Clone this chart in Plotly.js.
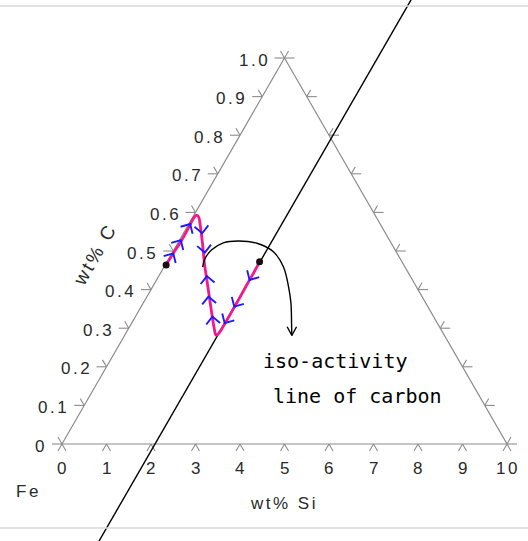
<!DOCTYPE html>
<html><head><meta charset="utf-8">
<script src="https://cdn.plot.ly/plotly-3.0.1.min.js"></script>
<style>
html,body{margin:0;padding:0;background:#fff;}
#chart{width:528px;height:541px;}
text.annotation-text[style*="Liberation"]{letter-spacing:2.5px;}
</style>
</head><body><div id="chart"></div>
<script>
// ----- axis definitions (ternary: wt% Si along the base, wt% C on the left side, Fe balance)
const siMax = 10;
const cMax = 1;
const siTicks = [0, 1, 2, 3, 4, 5, 6, 7, 8, 9, 10];
const siTickLabels = ['0', '1', '2', '3', '4', '5', '6', '7', '8', '9', '10'];
const cTicks = [0, 0.1, 0.2, 0.3, 0.4, 0.5, 0.6, 0.7, 0.8, 0.9, 1.0];
const cTickLabels = ['0', '0.1', '0.2', '0.3', '0.4', '0.5', '0.6', '0.7', '0.8', '0.9', '1.0'];

// ----- diffusion path (wt% Si, wt% C)
const pathSi = [0.02, 0.03, 0.05, 0.04, 0.03, 0.06, 0.14, 0.24, 0.40, 0.61, 0.86, 1.13, 1.40, 1.67, 1.92, 2.05, 2.09, 2.10, 2.10, 2.09, 2.09, 2.08];
const pathC  = [0.464, 0.494, 0.528, 0.567, 0.585, 0.593, 0.587, 0.572, 0.546, 0.511, 0.468, 0.425, 0.382, 0.339, 0.300, 0.282, 0.287, 0.313, 0.365, 0.412, 0.442, 0.472];

// ----- couple end compositions
const endSi = [0.02, 2.08];
const endC  = [0.464, 0.472];

// ----- iso-activity line of carbon
const isoSi = [2.09, 2.09];
const isoC  = [-0.30, 1.16];

// ----- flow-direction chevrons along the path (direction in screen degrees)
const flowSi  = [0.03, 0.03, 0.03, 0.42, 0.73, 1.08, 1.38, 1.73, 2.09, 2.09, 2.09];
const flowC   = [0.494, 0.528, 0.570, 0.546, 0.496, 0.435, 0.382, 0.330, 0.425, 0.356, 0.313];
const flowDir = [60, 60, 60, -84, -84, 96, 96, 96, 240, 240, 240];

// ----- hand-drawn pointer curve to the note
const pointerSi = [0.87, 0.81, 0.85, 1.02, 1.33, 1.78, 2.26, 2.68, 3.05, 3.32, 3.64, 3.76];
const pointerC  = [0.458, 0.481, 0.503, 0.521, 0.526, 0.520, 0.498, 0.459, 0.408, 0.365, 0.304, 0.281];

const noteLines = ['iso-activity', 'line of carbon'];

// ----- layout geometry
const W = 528, H = 541;
const xRange = [-1.3933, 10.4719];
const yRange = [-0.2513, 1.1503];
const sx = W / (xRange[1] - xRange[0]);
const sy = H / (yRange[1] - yRange[0]);

function U(s, c) { return s + (siMax / 2) * (c / cMax); }
function V(s, c) { return c / cMax; }

const gray = '#8c8c8c';
const tickLen = 8, tickLenH = 10;
function seg(xs, ys, u, v, angDeg, len) {
  const a = angDeg * Math.PI / 180;
  xs.push(u, u + len * Math.cos(a) / sx, null);
  ys.push(v, v + len * Math.sin(a) / sy, null);
}

// triangle frame
const frameX = [U(0,0), U(siMax,0), U(0,cMax), U(0,0)];
const frameY = [V(0,0), V(siMax,0), V(0,cMax), V(0,0)];

// ticks
const tx = [], ty = [];
cTicks.forEach(c => {
  const ul = U(0, c), vl = V(0, c);
  seg(tx, ty, ul, vl, 180, tickLenH);
  seg(tx, ty, ul, vl, 120, tickLen);
  const ur = U(siMax * (1 - c / cMax), c), vr = V(0, c);
  seg(tx, ty, ur, vr, 0, tickLenH);
  seg(tx, ty, ur, vr, 60, tickLen);
});
siTicks.forEach(s => {
  const u = U(s, 0), v = V(s, 0);
  seg(tx, ty, u, v, 240, tickLen);
  seg(tx, ty, u, v, 300, tickLen);
});

// chevrons
const chX = [], chY = [];
flowSi.forEach((s, i) => {
  const u = U(s, flowC[i]), v = V(s, flowC[i]);
  const back = flowDir[i] + 180;
  const a1 = (back + 44) * Math.PI / 180, a2 = (back - 44) * Math.PI / 180;
  const L = 10;
  chX.push(u + L * Math.cos(a1) / sx, u, u + L * Math.cos(a2) / sx, null);
  chY.push(v + L * Math.sin(a1) / sy, v, v + L * Math.sin(a2) / sy, null);
});

// pointer arrowhead
const pn = pointerSi.length - 1;
const tipU = U(pointerSi[pn], pointerC[pn]), tipV = V(pointerSi[pn], pointerC[pn]);
const headX = [], headY = [];
[90 + 28, 90 - 28].forEach(d => {
  const a = d * Math.PI / 180;
  headX.push(tipU + 10 * Math.cos(a) / sx);
  headY.push(tipV + 10 * Math.sin(a) / sy);
});
const arrowHeadX = [headX[0], tipU, headX[1]];
const arrowHeadY = [headY[0], tipV, headY[1]];

const traces = [
  {x: frameX, y: frameY, mode: 'lines', line: {color: gray, width: 1.2}, hoverinfo: 'skip'},
  {x: tx, y: ty, mode: 'lines', line: {color: gray, width: 1.1}, hoverinfo: 'skip'},
  {x: isoSi.map((s, i) => U(s, isoC[i])), y: isoC.map((c, i) => V(isoSi[i], c)),
   mode: 'lines', line: {color: '#000', width: 1.4}, hoverinfo: 'skip'},
  {x: pathSi.map((s, i) => U(s, pathC[i])), y: pathC.map((c, i) => V(pathSi[i], c)),
   mode: 'lines', line: {color: '#f5178f', width: 2.8, shape: 'spline', smoothing: 0.8}, hoverinfo: 'skip'},
  {x: chX, y: chY, mode: 'lines', line: {color: '#1b1bff', width: 1.9}, hoverinfo: 'skip'},
  {x: pointerSi.map((s, i) => U(s, pointerC[i])), y: pointerC.map((c, i) => V(pointerSi[i], c)),
   mode: 'lines', line: {color: '#000', width: 1.4, shape: 'spline', smoothing: 1}, hoverinfo: 'skip'},
  {x: arrowHeadX, y: arrowHeadY, mode: 'lines', line: {color: '#000', width: 1.4}, hoverinfo: 'skip'},
  {x: endSi.map((s, i) => U(s, endC[i])), y: endC.map((c, i) => V(endSi[i], c)),
   mode: 'markers', marker: {color: '#1a0d12', size: 7}, hoverinfo: 'skip'}
];

const FAM = 'Liberation Sans, Arial, sans-serif';
const lblFont = {family: FAM, size: 17, color: '#2a2a2a'};
const annotations = [];
cTicks.forEach((c, i) => annotations.push({
  x: U(0, c), y: V(0, c), xref: 'x', yref: 'y', text: cTickLabels[i], showarrow: false,
  xanchor: 'right', yanchor: 'middle', xshift: -13, yshift: -2, font: lblFont
}));
siTicks.forEach((s, i) => annotations.push({
  x: U(s, 0), y: V(s, 0), xref: 'x', yref: 'y', text: siTickLabels[i], showarrow: false,
  xanchor: 'center', yanchor: 'middle', yshift: -24, xshift: 1, font: lblFont
}));
annotations.push({x: 0.180, y: 0.529, xref: 'paper', yref: 'paper', text: 'wt% C', showarrow: false,
  xanchor: 'center', yanchor: 'middle', textangle: -60, font: {family: FAM, size: 19, color: '#2a2a2a'}});
annotations.push({x: 0.538, y: 0.070, xref: 'paper', yref: 'paper', text: 'wt% Si', showarrow: false,
  xanchor: 'center', yanchor: 'middle', font: {family: FAM, size: 17, color: '#2a2a2a'}});
annotations.push({x: 0.026, y: 0.091, xref: 'paper', yref: 'paper', text: 'Fe', showarrow: false,
  xanchor: 'left', yanchor: 'middle', font: {family: FAM, size: 17, color: '#2a2a2a'}});
annotations.push({x: 0.494, y: 0.333, xref: 'paper', yref: 'paper', text: noteLines[0], showarrow: false,
  xanchor: 'left', yanchor: 'middle', font: {family: 'DejaVu Sans Mono, monospace', size: 20, color: '#000'}});
annotations.push({x: 0.513, y: 0.268, xref: 'paper', yref: 'paper', text: noteLines[1], showarrow: false,
  xanchor: 'left', yanchor: 'middle', font: {family: 'DejaVu Sans Mono, monospace', size: 20, color: '#000'}});

const layout = {
  width: W, height: H, autosize: false,
  margin: {l: 0, r: 0, t: 0, b: 0, pad: 0},
  paper_bgcolor: '#fff', plot_bgcolor: '#fff', showlegend: false,
  xaxis: {range: xRange, visible: false, fixedrange: true},
  yaxis: {range: yRange, visible: false, fixedrange: true},
  annotations: annotations,
  shapes: [
    {type: 'line', xref: 'paper', yref: 'paper', x0: 0, x1: 1, y0: 0.9889, y1: 0.9889, line: {color: '#d8d8d8', width: 1.5}},
    {type: 'line', xref: 'paper', yref: 'paper', x0: 0, x1: 1, y0: 0.024, y1: 0.024, line: {color: '#d8d8d8', width: 1.5}}
  ]
};

Plotly.newPlot('chart', traces, layout, {staticPlot: true, displayModeBar: false});
</script></body></html>
